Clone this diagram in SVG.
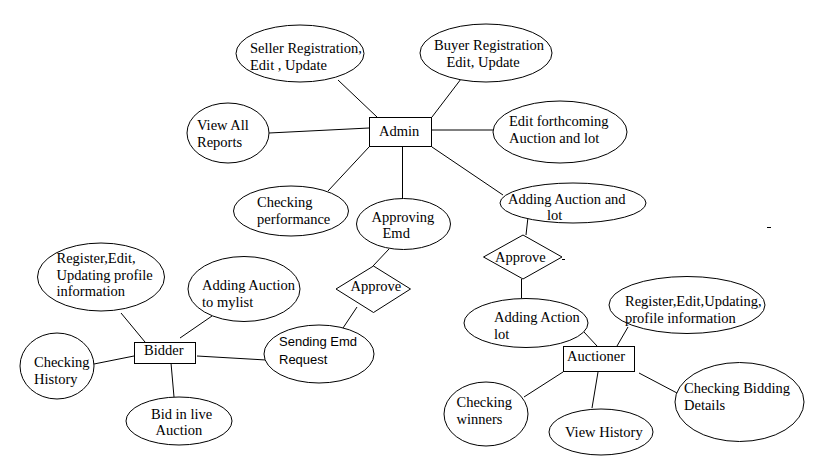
<svg xmlns="http://www.w3.org/2000/svg" width="819" height="460" viewBox="0 0 819 460">
<style>
.s{fill:#fff;stroke:#000;stroke-width:1}
.t{font-family:"Liberation Serif","Times New Roman",serif;font-size:14.5px;fill:#000}
.a{font-family:"Liberation Sans",Arial,sans-serif;font-size:13px;fill:#000}
.c line{stroke:#000;stroke-width:1}
</style>
<rect width="819" height="460" fill="#fff"/>
<g id="connectors" class="c">
<line x1="338" y1="80" x2="377" y2="117"/>
<line x1="461" y1="79" x2="432" y2="117"/>
<line x1="269" y1="133" x2="369" y2="128"/>
<line x1="432" y1="130" x2="493" y2="130"/>
<line x1="432" y1="147" x2="503" y2="195"/>
<line x1="369" y1="147" x2="328" y2="191"/>
<line x1="402.5" y1="147" x2="402.5" y2="199"/>
<line x1="389" y1="249" x2="373" y2="266"/>
<line x1="357" y1="307" x2="343" y2="328"/>
<line x1="528" y1="217" x2="526" y2="235"/>
<line x1="521.5" y1="279" x2="521.5" y2="298"/>
<line x1="584" y1="332" x2="597" y2="346"/>
<line x1="628" y1="327" x2="617" y2="346"/>
<line x1="524" y1="397" x2="563" y2="372"/>
<line x1="598" y1="372" x2="592" y2="408"/>
<line x1="639" y1="373" x2="677" y2="393"/>
<line x1="121" y1="313" x2="145" y2="342"/>
<line x1="212" y1="316" x2="180" y2="338"/>
<line x1="94" y1="364" x2="134" y2="356"/>
<line x1="197" y1="356" x2="266" y2="360"/>
<line x1="171" y1="363" x2="174" y2="397"/>
<line x1="562" y1="259.5" x2="565" y2="259.5"/>
<line x1="767" y1="227.5" x2="771" y2="227.5"/>
</g>
<g id="admin"><rect class="s" x="369.5" y="117.5" width="62" height="29"/><text class="t" x="379" y="136">Admin</text></g>
<g id="seller"><ellipse class="s" cx="300" cy="53.5" rx="64" ry="28.5"/><text class="t" x="250" y="53">Seller Registration,</text><text class="t" x="250" y="69.5">Edit , Update</text></g>
<g id="buyer"><ellipse class="s" cx="486" cy="53" rx="66" ry="29"/><text class="t" x="434" y="49.5">Buyer Registration</text><text class="t" x="446.5" y="66.5">Edit, Update</text></g>
<g id="viewall"><ellipse class="s" cx="228" cy="133" rx="41" ry="30"/><text class="t" x="197" y="130">View All</text><text class="t" x="197" y="147">Reports</text></g>
<g id="editforth"><ellipse class="s" cx="560" cy="132" rx="67" ry="31"/><text class="t" x="509" y="126">Edit forthcoming</text><text class="t" x="509" y="143">Auction and lot</text></g>
<g id="checkperf"><ellipse class="s" cx="291" cy="211" rx="57.5" ry="25"/><text class="t" x="257" y="207">Checking</text><text class="t" x="257" y="224">performance</text></g>
<g id="approvingemd"><ellipse class="s" cx="403.5" cy="224" rx="47" ry="25.5"/><text class="t" x="371.5" y="221.5">Approving</text><text class="t" x="382.5" y="238">Emd</text></g>
<g id="addingauctionlot"><ellipse class="s" cx="573" cy="203" rx="73" ry="20"/><text class="t" x="508" y="204">Adding Auction and</text><text class="t" x="547" y="220">lot</text></g>
<g id="approve1"><polygon class="s" points="373.5,266 410.5,289 373.5,312.5 336,289"/><text class="t" x="350.5" y="291">Approve</text></g>
<g id="approve2"><polygon class="s" points="523,235 562,257 523,279 483.5,257"/><text class="t" x="495" y="262">Approve</text></g>
<g id="sendingemd"><ellipse class="s" cx="319" cy="354" rx="55" ry="29"/><text class="a" x="279" y="346">Sending Emd</text><text class="a" x="279" y="363.5">Request</text></g>
<g id="bidder"><rect class="s" x="134.5" y="342.5" width="61" height="21"/><text class="t" x="144" y="355">Bidder</text></g>
<g id="bidreg"><ellipse class="s" cx="101" cy="277" rx="63.5" ry="34"/><text class="t" x="56.5" y="262.5">Register,Edit,</text><text class="t" x="56.5" y="279.5">Updating profile</text><text class="t" x="56.5" y="296">information</text></g>
<g id="addmylist"><ellipse class="s" cx="244" cy="289" rx="56" ry="32.5"/><text class="t" x="202" y="289.5">Adding Auction</text><text class="t" x="202" y="306.5">to mylist</text></g>
<g id="checkhistory"><ellipse class="s" cx="57" cy="366" rx="37" ry="33"/><text class="t" x="34" y="367">Checking</text><text class="t" x="34" y="383.5">History</text></g>
<g id="bidlive"><ellipse class="s" cx="179" cy="421" rx="53" ry="24"/><text class="t" x="151" y="418.5">Bid in live</text><text class="t" x="155.5" y="435">Auction</text></g>
<g id="addingactionlot"><ellipse class="s" cx="526" cy="323" rx="62" ry="24.5"/><text class="t" x="494" y="322">Adding Action</text><text class="t" x="494" y="338.5">lot</text></g>
<g id="auctioner"><rect class="s" x="563.5" y="346.5" width="71" height="25"/><text class="t" x="567" y="361">Auctioner</text></g>
<g id="aucreg"><ellipse class="s" cx="687" cy="305" rx="78" ry="28.5"/><text class="t" x="625" y="306">Register,Edit,Updating,</text><text class="t" x="625" y="323">profile information</text></g>
<g id="checkwinners"><ellipse class="s" cx="486" cy="414" rx="42" ry="32"/><text class="t" x="456.5" y="407">Checking</text><text class="t" x="456.5" y="423.5">winners</text></g>
<g id="viewhistory"><ellipse class="s" cx="601" cy="432" rx="52" ry="23"/><text class="t" x="565" y="437">View History</text></g>
<g id="checkbidding"><ellipse class="s" cx="739.5" cy="402" rx="64.5" ry="39.5"/><text class="t" x="684" y="393">Checking Bidding</text><text class="t" x="684" y="409.5">Details</text></g>
</svg>
